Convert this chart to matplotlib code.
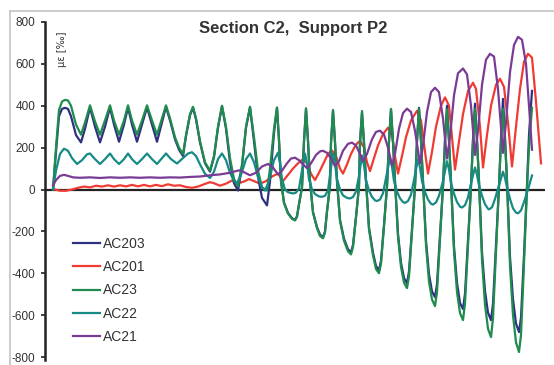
import matplotlib
matplotlib.use("Agg")
import matplotlib.pyplot as plt
from matplotlib.lines import Line2D

plt.rcParams["font.family"] = ["Liberation Sans", "DejaVu Sans"]

# ---------------- data (time index, strain values) ----------------
series_names = ["AC203", "AC201", "AC23", "AC22", "AC21"]
series_colors = ["#2e3180", "#ef3b33", "#1f8c4e", "#178a86", "#7a3b95"]

t_ac23 = [53, 56, 59, 62, 65, 68, 71, 76, 81, 85, 90, 95, 100, 105, 110, 114, 119, 124, 128, 132, 137, 142,
          147, 152, 157, 162, 166, 170, 175, 179, 183, 186, 190, 193, 196, 200, 205, 210, 214, 218, 222, 226,
          230, 234, 238, 242, 246, 250, 254, 258, 262, 267, 270, 274, 277,
          279, 281, 284, 288, 292, 295, 297, 299, 302, 304, 306,
          308, 310, 313, 317, 320, 323, 325, 327, 330, 331, 333,
          335, 337, 340, 344, 348, 351, 353, 356, 359, 360, 362,
          364, 366, 369, 373, 376, 379, 381, 384, 387, 389, 391,
          393, 395, 398, 401, 404, 407, 409, 412, 415, 417, 419,
          421, 423, 426, 429, 432, 435, 437, 440, 443, 445, 447,
          449, 451, 454, 457, 460, 463, 465, 468, 471, 473, 475,
          477, 479, 482, 485, 488, 491, 493, 496, 499, 501, 503,
          505, 507, 510, 513, 516, 519, 521, 524, 527, 529, 532]
v_ac23 = [0, 200, 380, 420, 428, 425, 400, 310, 262, 320, 402, 325, 262, 330, 402, 330, 262, 330, 402, 330, 262, 330,
          402, 330, 262, 340, 402, 340, 250, 200, 168, 260, 360, 395, 340, 230, 130, 90, 160, 300, 400, 300,
          150, 50, 15, 120, 300, 395, 250, 90, 10, -5, 100, 290, 392,
          235, 40, -65, -115, -140, -148, -130, -70, 10, 230, 388,
          233, 40, -110, -185, -222, -233, -205, -105, 20, 225, 380,
          228, 40, -150, -245, -295, -310, -275, -135, 15, 225, 375,
          225, 40, -190, -315, -380, -400, -355, -175, 15, 230, 385,
          230, 40, -225, -370, -445, -471, -415, -200, 15, 230, 385,
          230, 40, -265, -440, -525, -557, -490, -240, 15, 230, 382,
          230, 40, -295, -490, -590, -624, -545, -265, 15, 230, 385,
          230, 40, -335, -550, -665, -705, -615, -295, 15, 230, 385,
          230, 40, -365, -600, -730, -776, -695, -355, 10, 200, 390]

t_ac203 = t_ac23
v_ac203 = [0, 180, 350, 385, 390, 385, 350, 260, 225, 290, 392, 300, 225, 300, 392, 310, 228, 310, 392, 310, 228, 310,
           392, 310, 228, 320, 395, 330, 240, 190, 160, 255, 355, 390, 335, 225, 125, 85, 155, 295, 398, 290,
           130, 30, -5, 110, 295, 392, 230, 60, -40, -76, 40, 270, 390,
           235, 40, -62, -112, -137, -145, -128, -70, 10, 230, 385,
           232, 40, -108, -180, -215, -228, -200, -105, 20, 222, 376,
           225, 40, -145, -235, -285, -300, -265, -130, 15, 222, 367,
           222, 40, -182, -302, -365, -386, -340, -170, 15, 230, 381,
           228, 40, -212, -350, -422, -448, -392, -190, 15, 232, 390,
           232, 40, -245, -405, -487, -514, -452, -222, 15, 235, 400,
           235, 40, -272, -445, -542, -571, -498, -242, 15, 240, 410,
           240, 40, -300, -485, -588, -624, -545, -262, 15, 250, 433,
           250, 40, -322, -525, -640, -681, -612, -312, 20, 260, 471]

t_ac22 = [53, 56, 60, 64, 68, 72, 77, 82, 87, 90, 95, 100, 105, 110, 114, 119, 124, 128, 132, 137, 142, 147,
          152, 157, 162, 166, 171, 177, 183, 188, 192, 196, 200, 205, 210, 214, 218, 222, 226, 230, 234, 237,
          241, 246, 250, 254, 258, 262, 265, 269, 274, 278,
          280, 282, 285, 288, 293, 296, 299, 302, 305,
          307, 309, 312, 315, 319, 322, 325, 328, 330, 333,
          335, 337, 340, 343, 347, 350, 353, 356, 359, 362,
          364, 366, 369, 372, 375, 377, 380, 383, 386, 390,
          392, 394, 397, 400, 403, 405, 408, 411, 414, 418,
          420, 422, 425, 428, 431, 433, 436, 439, 443, 447,
          449, 451, 454, 457, 460, 462, 465, 468, 471, 475,
          477, 479, 482, 485, 488, 489, 492, 495, 499, 503,
          505, 507, 510, 513, 516, 518, 521, 524, 528, 532]
v_ac22 = [0, 90, 170, 195, 185, 150, 122, 140, 168, 172, 145, 122, 145, 172, 145, 122, 145, 172, 145, 122, 145, 172,
          145, 122, 150, 172, 145, 124, 150, 172, 178, 160, 120, 75, 55, 85, 145, 172, 140, 80, 40, 30,
          70, 145, 172, 130, 60, 10, -5, 40, 140, 176,
          125, 50, 0, -13, -19, -15, 5, 90, 171,
          125, 50, 0, -22, -33, -35, -30, -5, 70, 171,
          120, 50, 0, -28, -40, -43, -36, -10, 65, 162,
          115, 45, -5, -35, -52, -55, -48, -18, 55, 152,
          110, 40, -10, -42, -60, -64, -55, -25, 45, 145,
          105, 40, -12, -48, -68, -72, -62, -30, 40, 135,
          95, 30, -20, -60, -82, -86, -75, -38, 30, 105,
          70, 20, -30, -70, -92, -95, -85, -45, 20, 85,
          55, 10, -45, -90, -110, -114, -100, -60, 0, 67]

t_ac21 = [53, 56, 60, 64, 68, 73, 80, 90, 100, 110, 120, 130, 140, 150, 160, 170, 180, 190, 200, 210, 220,
          230, 236, 240, 245, 250, 256, 262, 268, 273, 278,
          282, 287, 291, 295, 299, 303, 307,
          311, 316, 320, 323, 327, 331, 335,
          339, 343, 348, 352, 356, 360, 363,
          367, 372, 376, 380, 384, 388, 392,
          395, 399, 403, 407, 411, 415, 420,
          423, 427, 431, 435, 439, 443, 447,
          450, 454, 458, 463, 467, 471, 475,
          478, 482, 486, 490, 494, 498, 503,
          506, 510, 514, 518, 522, 526, 529, 532]
v_ac21 = [20, 45, 65, 70, 65, 58, 56, 58, 55, 58, 56, 58, 56, 58, 56, 58, 57, 60, 62, 68, 72,
          80, 88, 92, 80, 68, 80, 110, 122, 105, 72,
          90, 125, 148, 152, 140, 120, 102,
          125, 165, 182, 185, 175, 148, 112,
          135, 185, 218, 224, 210, 170, 135,
          170, 240, 275, 281, 262, 200, 115,
          170, 290, 365, 386, 370, 280, 124,
          210, 370, 465, 486, 465, 340, 148,
          250, 450, 555, 578, 550, 400, 165,
          280, 500, 620, 648, 635, 480, 175,
          320, 560, 690, 729, 715, 600, 400, 190]

t_ac201 = [55, 60, 66, 72, 78, 84, 90, 96, 102, 108, 114, 120, 126, 132, 138, 144, 150, 156, 162, 168, 174,
           180, 186, 192, 198, 204, 210, 214, 220, 226, 232, 238, 244, 249, 254, 260, 266, 272, 278,
           283, 288, 293, 298, 303, 307, 311, 315,
           319, 324, 328, 332, 336, 340, 343,
           347, 351, 356, 360, 364, 367, 370,
           374, 378, 383, 388, 392, 395, 398,
           402, 406, 411, 417, 421, 425, 428,
           432, 436, 441, 445, 449, 452, 455,
           459, 463, 468, 473, 476, 480, 483,
           487, 491, 496, 500, 504, 508, 512,
           516, 520, 524, 528, 532, 536, 541]
v_ac201 = [0, -6, -6, 0, 8, 14, 10, 18, 14, 20, 14, 20, 15, 22, 15, 22, 15, 22, 16, 25, 18,
           20, 12, 8, 14, 25, 35, 30, 18, 28, 43, 30, 38, 50, 40, 28, 40, 62, 76,
           40, 70, 100, 125, 145, 125, 75, 45,
           80, 130, 170, 186, 160, 100, 76,
           120, 170, 215, 233, 200, 130, 88,
           150, 210, 265, 295, 260, 160, 76,
           160, 250, 330, 376, 330, 180, 76,
           180, 300, 400, 440, 400, 250, 95,
           230, 360, 470, 510, 480, 300, 105,
           260, 400, 500, 529, 490, 320, 110,
           300, 480, 610, 648, 630, 420, 125]

y_ticks = [-800, -600, -400, -200, 0, 200, 400, 600, 800]

# ---------------- figure ----------------
W, H = 554, 365
fig = plt.figure(figsize=(W / 100, H / 100), dpi=100)
fig.patch.set_facecolor("white")

# outer light frame
fig.add_artist(Line2D([10 / W, 1.01], [1 - 11 / H, 1 - 11 / H], color="#c4c4c4", lw=1.2,
                      transform=fig.transFigure))
fig.add_artist(Line2D([10 / W, 10 / W], [-0.01, 1 - 11 / H], color="#c4c4c4", lw=1.2,
                      transform=fig.transFigure))

ax = fig.add_axes([45 / W, 1 - 357 / H, 500 / W, 335 / H])
ax.set_xlim(45, 545)
ax.set_ylim(-800, 800)

for s in ["top", "right", "bottom"]:
    ax.spines[s].set_visible(False)
ax.spines["left"].set_linewidth(1.8)
ax.spines["left"].set_color("#222222")
ax.spines["left"].set_bounds(-815, 800)
ax.set_xticks([])
ax.set_yticks(y_ticks)
ax.set_yticklabels([str(v) for v in y_ticks])
ax.tick_params(axis="y", direction="out", length=3, width=1.2, pad=4,
               labelsize=8.5, labelcolor="#333333", color="#222222")

ax.axhline(0, color="#222222", lw=1.6, zorder=1)

data = {
    "AC203": (t_ac203, v_ac203),
    "AC201": (t_ac201, v_ac201),
    "AC23": (t_ac23, v_ac23),
    "AC22": (t_ac22, v_ac22),
    "AC21": (t_ac21, v_ac21),
}
zorders = {"AC203": 3, "AC201": 2, "AC23": 4, "AC22": 5, "AC21": 6}
handles = []
for name, col in zip(series_names, series_colors):
    tt, vv = data[name]
    ln, = ax.plot(tt, vv, color=col, lw=1.6, zorder=zorders[name], label=name,
                  solid_joinstyle="round")
    handles.append(ln)

leg = ax.legend(handles=handles, loc="upper left", bbox_to_anchor=(22 / 500, (357 - 231) / 335),
                frameon=False, fontsize=10, handlelength=2.0, handletextpad=0.2,
                labelspacing=0.68, borderaxespad=0)
for txt in leg.get_texts():
    txt.set_color("#333333")

fig.text(293 / W, 1 - 28 / H, "Section C2,  Support P2", ha="center", va="center",
         fontsize=12, fontweight="bold", color="#333333")
fig.text(62 / W, 1 - 49 / H, "με [‰]", rotation=90, ha="center", va="center",
         fontsize=7, color="#333333", family=["DejaVu Sans"])

fig.savefig("out.png", dpi=100, facecolor="white")
